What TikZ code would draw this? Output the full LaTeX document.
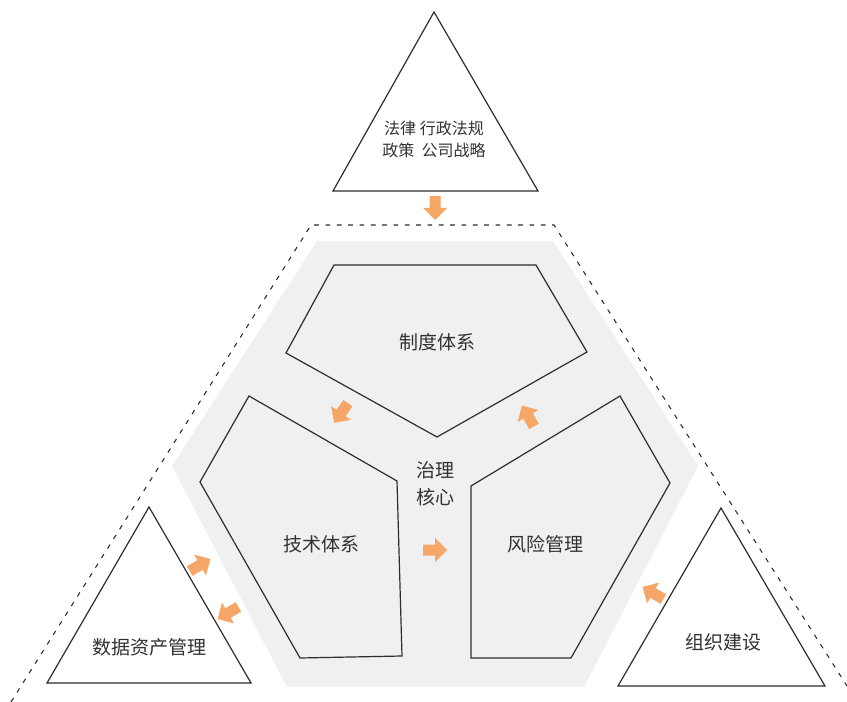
\documentclass[tikz,border=0pt]{standalone}
\usepackage{fontspec}
\newfontfamily\cjk{Noto Sans CJK SC}
\definecolor{hexgray}{RGB}{240,240,240}
\definecolor{linec}{RGB}{45,45,45}
\definecolor{arrowc}{RGB}{246,166,102}
\definecolor{txtc}{RGB}{50,50,50}
\newcommand\oarr[3]{\fill[arrowc, shift={(#1,#2)}, rotate=#3] (-12,-5.5) -- (0,-5.5) -- (0,-12) -- (12,0) -- (0,12) -- (0,5.5) -- (-12,5.5) -- cycle;}
\begin{document}
\begin{tikzpicture}[x=0.75pt,y=-0.75pt,
  lbl/.style={font=\cjk\fontsize{14.25}{20}\selectfont, text=txtc, inner sep=0pt, align=center},
  smalllbl/.style={font=\cjk\fontsize{12}{16.5}\selectfont, text=txtc, inner sep=0pt, align=center},
  shapeline/.style={draw=linec, line width=0.9pt, line join=miter},
  dashline/.style={draw=linec, line width=0.8pt, dash pattern=on 3.5pt off 5pt}]
\useasboundingbox (0,0) rectangle (847,702);
\fill[white] (0,0) rectangle (847,702);

% outer dashed frame
\draw[dashline] (11,702) -- (311,225) -- (554,225) -- (847,686);

% gray hexagon
\fill[hexgray] (317,241) -- (553,241) -- (698,466) -- (584,687) -- (287,687) -- (172,466) -- cycle;

% pentagons
\draw[shapeline, fill=hexgray] (334,265) -- (536,265) -- (587,352) -- (437,437) -- (286,353) -- cycle;
\draw[shapeline, fill=hexgray] (249,396) -- (397,481) -- (402,656) -- (300,658) -- (200,482) -- cycle;
\draw[shapeline, fill=hexgray] (471,486) -- (620,396) -- (670,483) -- (571,658) -- (471,658) -- cycle;

% triangles
\draw[shapeline, fill=white] (434,12) -- (538,191) -- (333,191) -- cycle;
\draw[shapeline, fill=white] (149,507) -- (251,683) -- (47,683) -- cycle;
\draw[shapeline, fill=white] (721,508) -- (825,686) -- (618,686) -- cycle;

% labels
\node[smalllbl] (law) at (434,139) {法律 行政法规\\政策\ \ 公司战略};
\node[lbl] (zhidu) at (437,342) {制度体系};
\node[lbl] (jishu) at (321,544) {技术体系};
\node[lbl] (fengxian) at (545,544) {风险管理};
\node[lbl] (core) at (435,483.5) {治理\\核心};
\node[lbl] (shuju) at (149,647) {数据资产管理};
\node[lbl] (zuzhi) at (723,642) {组织建设};

% orange arrows
\oarr{435}{208}{-90}
\oarr{341}{413}{235}
\oarr{528}{416}{120}
\oarr{435}{550}{0}
\oarr{200}{565}{30}
\oarr{228}{613}{210}
\oarr{653}{593}{150}
\end{tikzpicture}
\end{document}
